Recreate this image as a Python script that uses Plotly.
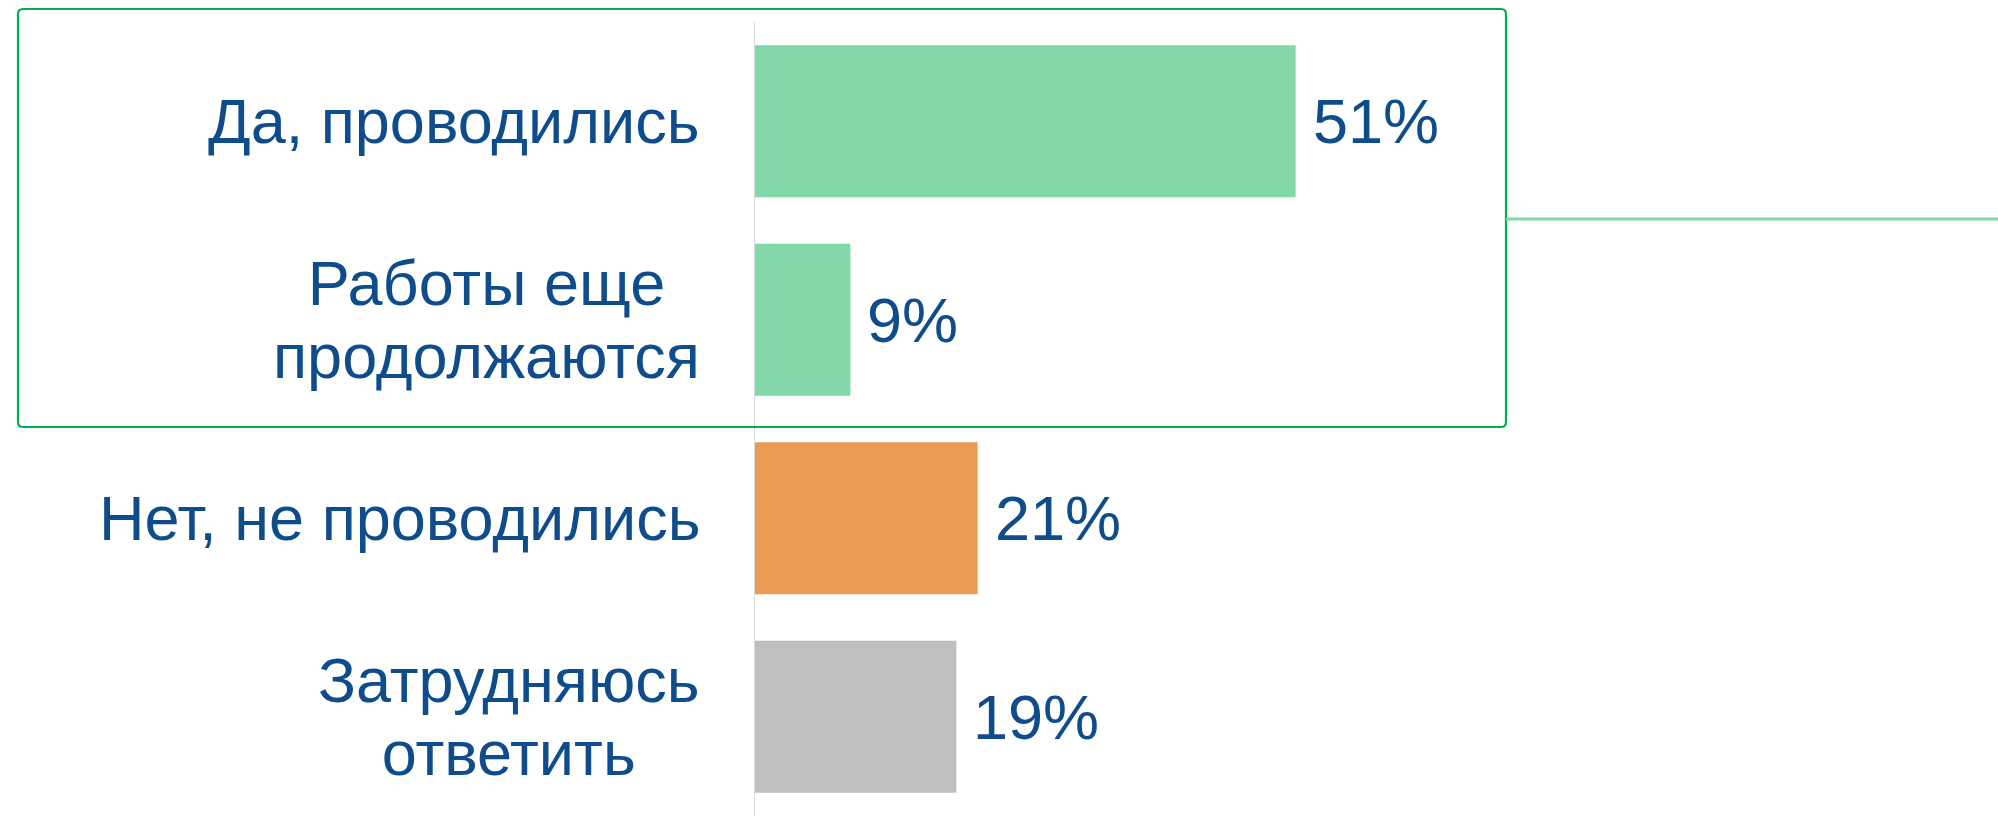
import plotly.graph_objects as go

categories = ["Да, проводились", "Работы еще<br>продолжаются", "Нет, не проводились", "Затрудняюсь<br>ответить"]
values = [51, 9, 21, 19]
value_labels = ["51%", "9%", "21%", "19%"]
bar_colors = ["#82D8A8", "#82D8A8", "#EB9A54", "#BFBFBF"]

TEXT_COLOR = "#0F4C8B"
FONT = "Liberation Sans, Arial, sans-serif"
W, H = 1998, 816
L, T, R, B = 755, 22, 0, 0
PW, PH = W - L - R, H - T - B


def px_x(px):
    return (px - L) / PW


def px_y(py):
    return 1 - (py - T) / PH


fig = go.Figure()
fig.add_trace(go.Bar(
    y=categories, x=values, orientation="h",
    marker=dict(color=bar_colors, line=dict(width=0)),
    hoverinfo="skip",
))

annotations = []
for cat, val, lab in zip(categories, values, value_labels):
    lines = cat.split("<br>")
    txt = "<br>".join(f"<span style='font-size:63px'>{ln}</span>" for ln in lines)
    annotations.append(dict(
        x=0, xref="paper", y=cat, yref="y", xanchor="right", yanchor="middle",
        xshift=-53, text=txt, showarrow=False, align="center",
        font=dict(family=FONT, size=56, color=TEXT_COLOR),
    ))
    annotations.append(dict(
        x=val, xref="x", y=cat, yref="y", xanchor="left", yanchor="middle",
        xshift=15, text=lab, showarrow=False,
        font=dict(family=FONT, size=63, color=TEXT_COLOR),
    ))

# rounded highlight box around the first two categories
x0, x1 = px_x(18), px_x(1506)
y0, y1 = px_y(427), px_y(9)
r = 5
rx, ry = r / PW, r / PH
path = (
    f"M {x0 + rx},{y1} L {x1 - rx},{y1} Q {x1},{y1} {x1},{y1 - ry} "
    f"L {x1},{y0 + ry} Q {x1},{y0} {x1 - rx},{y0} "
    f"L {x0 + rx},{y0} Q {x0},{y0} {x0},{y0 + ry} "
    f"L {x0},{y1 - ry} Q {x0},{y1} {x0 + rx},{y1} Z"
)
shapes = [
    dict(type="path", xref="paper", yref="paper", path=path,
         line=dict(color="#00B050", width=2.2), layer="above"),
    dict(type="line", xref="paper", yref="paper",
         x0=x1, x1=px_x(W), y0=px_y(219), y1=px_y(219),
         line=dict(color="#82D8A8", width=3)),
]

fig.update_layout(
    width=W, height=H,
    margin=dict(l=L, r=R, t=T, b=B),
    paper_bgcolor="white", plot_bgcolor="white",
    bargap=0.235,
    showlegend=False,
    xaxis=dict(range=[0, PW / 10.6], visible=False, fixedrange=True),
    yaxis=dict(autorange="reversed", showticklabels=False, ticks="",
               showgrid=False, zeroline=False, fixedrange=True,
               showline=True, linecolor="#D9D9D9", linewidth=1.5),
    annotations=annotations,
    shapes=shapes,
)

fig.write_html(
    "out.html",
    config={"displayModeBar": False, "staticPlot": True},
    post_script="document.body.style.margin='0';document.body.style.overflow='hidden';",
)
